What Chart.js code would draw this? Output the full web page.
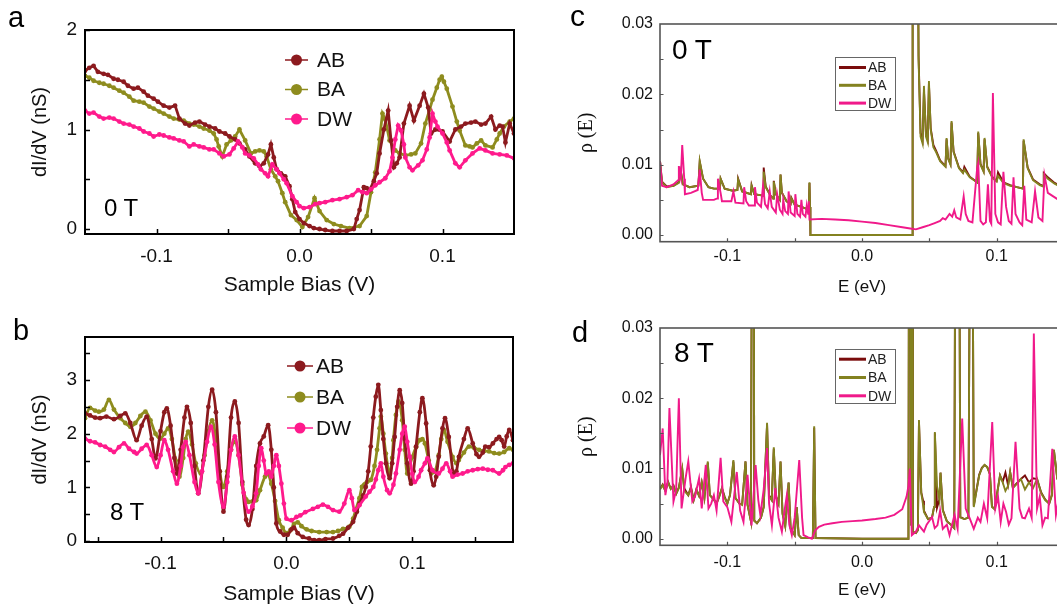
<!DOCTYPE html>
<html><head><meta charset="utf-8">
<title>dI/dV spectra and calculated DOS</title>
<script src="https://cdn.jsdelivr.net/npm/chart.js@4.4.1/dist/chart.umd.min.js"></script>
<style>
html,body{margin:0;padding:0;background:#fff;}
body{width:1057px;height:612px;overflow:hidden;position:relative;font-family:Arial,"Liberation Sans",sans-serif;}
canvas{position:absolute;}
.t{position:absolute;line-height:1;color:#000;white-space:nowrap;}
</style></head><body>
<canvas id="ca" width="530" height="306" style="left:0;top:0"></canvas>
<canvas id="cb" width="530" height="306" style="left:0;top:306px"></canvas>
<canvas id="cc" width="540" height="306" style="left:530px;top:0"></canvas>
<canvas id="cd" width="540" height="306" style="left:530px;top:306px"></canvas>
<div class="t" style="left:8px;top:3px;font-size:29px">a</div>
<div class="t" style="left:13px;top:316px;font-size:29px">b</div>
<div class="t" style="left:570px;top:1px;font-size:30px">c</div>
<div class="t" style="left:572px;top:318px;font-size:29px">d</div>
<div class="t" style="left:104px;top:196px;font-size:24px">0 T</div>
<div class="t" style="left:110px;top:500px;font-size:24px">8 T</div>
<div class="t" style="left:672px;top:36px;font-size:28px">0 T</div>
<div class="t" style="left:674px;top:339px;font-size:28px">8 T</div>
<script>
// ---------- data: panel a (0 T, measured dI/dV, nS vs V) ----------
const aAB = [[-0.150,1.59],[-0.147,1.62],[-0.144,1.64],[-0.141,1.58],[-0.137,1.56],[-0.134,1.55],[-0.130,1.51],[-0.127,1.50],[-0.123,1.48],[-0.120,1.44],[-0.116,1.41],[-0.113,1.42],[-0.109,1.38],[-0.106,1.34],[-0.102,1.31],[-0.099,1.28],[-0.095,1.24],[-0.091,1.22],[-0.087,1.24],[-0.084,1.11],[-0.080,1.06],[-0.077,1.04],[-0.073,1.07],[-0.070,1.08],[-0.066,1.05],[-0.063,1.03],[-0.059,1.01],[-0.056,0.98],[-0.052,0.96],[-0.049,0.93],[-0.045,0.90],[-0.042,0.86],[-0.038,0.80],[-0.035,0.73],[-0.031,0.66],[-0.028,0.63],[-0.025,0.66],[-0.022,0.75],[-0.020,0.85],[-0.018,0.72],[-0.016,0.60],[-0.013,0.56],[-0.010,0.53],[-0.007,0.43],[-0.005,0.30],[-0.003,0.17],[0.000,0.10],[0.003,0.06],[0.007,0.03],[0.010,0.01],[0.014,0.00],[0.018,-0.01],[0.023,-0.02],[0.028,-0.02],[0.033,-0.02],[0.038,0.00],[0.040,0.10],[0.042,0.19],[0.045,0.42],[0.047,0.41],[0.049,0.39],[0.052,0.48],[0.054,0.56],[0.056,0.76],[0.059,1.00],[0.062,1.19],[0.064,0.89],[0.066,0.62],[0.068,0.66],[0.070,0.72],[0.073,1.06],[0.077,1.24],[0.080,1.09],[0.084,1.24],[0.087,1.36],[0.090,1.22],[0.092,0.96],[0.095,1.00],[0.100,0.98],[0.105,0.88],[0.109,1.00],[0.113,1.03],[0.116,1.06],[0.120,1.07],[0.123,1.08],[0.127,1.05],[0.130,1.06],[0.134,1.13],[0.137,1.00],[0.140,1.04],[0.142,1.03],[0.144,0.87],[0.147,1.06],[0.150,0.96]];
const aBA = [[-0.150,1.54],[-0.147,1.52],[-0.144,1.49],[-0.140,1.47],[-0.137,1.46],[-0.133,1.44],[-0.130,1.42],[-0.126,1.39],[-0.123,1.37],[-0.119,1.33],[-0.116,1.29],[-0.112,1.28],[-0.109,1.27],[-0.105,1.23],[-0.102,1.21],[-0.098,1.18],[-0.095,1.16],[-0.091,1.13],[-0.088,1.11],[-0.084,1.10],[-0.081,1.09],[-0.077,1.06],[-0.074,1.05],[-0.070,1.03],[-0.067,1.01],[-0.063,0.99],[-0.060,0.96],[-0.058,0.90],[-0.0565,0.83],[-0.054,0.73],[-0.051,0.85],[-0.048,0.89],[-0.045,0.93],[-0.042,1.00],[-0.038,0.89],[-0.034,0.76],[-0.031,0.78],[-0.028,0.79],[-0.025,0.78],[-0.023,0.73],[-0.020,0.60],[-0.017,0.53],[-0.015,0.48],[-0.012,0.36],[-0.010,0.27],[-0.006,0.14],[-0.002,0.09],[0.002,0.02],[0.006,0.12],[0.0105,0.31],[0.014,0.18],[0.019,0.09],[0.024,0.05],[0.029,0.03],[0.035,0.01],[0.042,0.03],[0.047,0.13],[0.050,0.37],[0.053,0.57],[0.056,0.90],[0.058,1.16],[0.060,1.10],[0.063,0.89],[0.067,0.79],[0.070,0.76],[0.074,0.74],[0.078,0.75],[0.081,0.76],[0.085,0.86],[0.088,1.06],[0.091,1.20],[0.093,1.30],[0.096,1.42],[0.098,1.50],[0.0995,1.53],[0.101,1.48],[0.103,1.41],[0.107,1.23],[0.110,1.08],[0.112,0.99],[0.116,0.84],[0.119,0.83],[0.121,0.82],[0.124,0.86],[0.127,0.89],[0.130,0.84],[0.135,0.82],[0.138,0.90],[0.140,0.96],[0.143,1.03],[0.147,1.08],[0.150,1.11]];
const aDW = [[-0.150,1.19],[-0.147,1.16],[-0.144,1.17],[-0.140,1.13],[-0.137,1.11],[-0.133,1.12],[-0.130,1.11],[-0.126,1.08],[-0.123,1.06],[-0.119,1.05],[-0.116,1.03],[-0.112,1.01],[-0.109,0.98],[-0.105,0.96],[-0.102,0.93],[-0.098,0.95],[-0.095,0.94],[-0.091,0.92],[-0.088,0.91],[-0.084,0.89],[-0.081,0.88],[-0.077,0.83],[-0.074,0.85],[-0.070,0.83],[-0.067,0.82],[-0.063,0.80],[-0.060,0.80],[-0.056,0.76],[-0.053,0.73],[-0.049,0.75],[-0.046,0.81],[-0.043,0.88],[-0.040,0.82],[-0.038,0.76],[-0.035,0.74],[-0.032,0.71],[-0.029,0.65],[-0.027,0.60],[-0.024,0.56],[-0.022,0.53],[-0.019,0.65],[-0.016,0.60],[-0.014,0.56],[-0.011,0.50],[-0.009,0.46],[-0.005,0.33],[-0.002,0.27],[0.000,0.23],[0.003,0.21],[0.007,0.22],[0.011,0.25],[0.014,0.26],[0.018,0.27],[0.023,0.29],[0.028,0.30],[0.033,0.32],[0.037,0.34],[0.041,0.39],[0.044,0.37],[0.047,0.36],[0.050,0.40],[0.053,0.44],[0.056,0.47],[0.060,0.51],[0.063,0.58],[0.065,0.72],[0.067,0.90],[0.069,1.04],[0.071,0.99],[0.073,0.85],[0.074,0.72],[0.077,0.62],[0.079,0.59],[0.083,0.64],[0.086,0.69],[0.089,0.80],[0.091,0.92],[0.093,1.16],[0.095,1.08],[0.0965,1.03],[0.100,0.96],[0.103,0.87],[0.105,0.79],[0.109,0.66],[0.112,0.62],[0.116,0.69],[0.121,0.76],[0.126,0.81],[0.130,0.79],[0.135,0.76],[0.140,0.75],[0.145,0.74],[0.150,0.71]];

// ---------- data: panel b (8 T, measured dI/dV) ----------
const bAB = [[-0.160,2.38],[-0.156,2.34],[-0.152,2.30],[-0.148,2.29],[-0.143,2.32],[-0.137,2.27],[-0.132,2.33],[-0.128,2.38],[-0.124,2.20],[-0.119,1.88],[-0.115,2.15],[-0.111,2.32],[-0.107,1.90],[-0.104,1.54],[-0.100,2.05],[-0.097,2.40],[-0.095,2.47],[-0.092,2.15],[-0.089,1.55],[-0.087,1.26],[-0.084,1.70],[-0.081,2.30],[-0.079,2.50],[-0.076,2.20],[-0.073,1.40],[-0.070,0.89],[-0.066,1.50],[-0.062,2.50],[-0.059,2.82],[-0.056,2.40],[-0.053,1.30],[-0.050,0.55],[-0.047,1.20],[-0.044,2.30],[-0.041,2.60],[-0.038,2.20],[-0.035,1.10],[-0.032,0.40],[-0.030,0.30],[-0.027,0.60],[-0.024,1.40],[-0.021,1.82],[-0.018,1.95],[-0.0145,2.16],[-0.012,1.70],[-0.010,1.00],[-0.008,0.33],[-0.005,0.18],[-0.002,0.12],[0.001,0.12],[0.004,0.22],[0.006,0.25],[0.009,0.15],[0.013,0.08],[0.018,0.05],[0.022,0.02],[0.026,0.02],[0.031,0.04],[0.037,0.05],[0.042,0.10],[0.045,0.14],[0.049,0.25],[0.053,0.36],[0.056,0.55],[0.058,0.70],[0.061,0.85],[0.063,1.01],[0.065,1.30],[0.067,1.76],[0.069,2.30],[0.071,2.69],[0.073,2.91],[0.075,2.44],[0.077,1.90],[0.079,1.45],[0.082,1.17],[0.084,1.45],[0.086,1.94],[0.088,2.50],[0.090,2.81],[0.092,2.57],[0.094,1.90],[0.096,1.45],[0.099,1.07],[0.101,1.30],[0.103,1.76],[0.106,2.40],[0.108,2.66],[0.111,2.19],[0.114,1.32],[0.117,1.04],[0.119,1.20],[0.121,1.57],[0.124,2.10],[0.126,2.29],[0.129,1.94],[0.133,1.25],[0.135,1.30],[0.137,1.57],[0.141,1.90],[0.144,2.10],[0.148,1.82],[0.151,1.62],[0.153,1.57],[0.156,1.65],[0.158,1.76],[0.161,1.75],[0.164,1.82],[0.167,1.90],[0.169,1.94],[0.171,1.88],[0.173,1.76],[0.175,1.95],[0.177,2.07],[0.180,1.88]];
const bBA = [[-0.160,2.29],[-0.156,2.48],[-0.152,2.43],[-0.149,2.41],[-0.145,2.45],[-0.141,2.63],[-0.137,2.45],[-0.132,2.29],[-0.128,2.20],[-0.124,2.13],[-0.120,2.20],[-0.116,2.33],[-0.112,2.41],[-0.108,2.25],[-0.104,2.00],[-0.100,1.91],[-0.097,2.00],[-0.094,2.10],[-0.091,1.90],[-0.088,1.50],[-0.085,1.20],[-0.082,1.55],[-0.080,1.90],[-0.078,2.04],[-0.075,1.80],[-0.072,1.45],[-0.068,1.26],[-0.065,1.60],[-0.062,2.05],[-0.059,2.25],[-0.056,1.90],[-0.053,1.30],[-0.050,1.01],[-0.047,1.30],[-0.044,1.70],[-0.041,1.85],[-0.038,1.60],[-0.035,1.05],[-0.032,0.78],[-0.030,0.73],[-0.027,0.74],[-0.024,0.76],[-0.021,0.95],[-0.017,1.20],[-0.015,1.25],[-0.012,1.07],[-0.009,0.75],[-0.006,0.39],[-0.003,0.25],[0.000,0.15],[0.003,0.20],[0.006,0.32],[0.009,0.35],[0.012,0.28],[0.016,0.22],[0.020,0.19],[0.026,0.17],[0.032,0.17],[0.037,0.17],[0.041,0.19],[0.045,0.23],[0.050,0.27],[0.053,0.42],[0.055,0.58],[0.058,0.80],[0.060,1.01],[0.064,1.10],[0.067,1.14],[0.070,1.40],[0.072,1.70],[0.074,2.10],[0.075,2.32],[0.077,2.00],[0.079,1.63],[0.082,1.26],[0.084,1.55],[0.085,1.88],[0.087,2.35],[0.089,2.60],[0.092,2.25],[0.094,1.70],[0.096,1.26],[0.098,1.40],[0.100,1.57],[0.103,1.75],[0.106,1.88],[0.108,1.90],[0.110,1.82],[0.113,1.50],[0.115,1.26],[0.118,1.30],[0.121,1.60],[0.123,1.90],[0.125,2.07],[0.128,1.85],[0.132,1.57],[0.135,1.45],[0.137,1.51],[0.141,1.65],[0.145,1.76],[0.149,1.74],[0.153,1.70],[0.157,1.68],[0.161,1.67],[0.165,1.64],[0.169,1.63],[0.173,1.66],[0.177,1.73],[0.180,1.70]];
const bDW = [[-0.160,1.91],[-0.156,1.86],[-0.152,1.84],[-0.148,1.79],[-0.144,1.76],[-0.140,1.70],[-0.137,1.66],[-0.133,1.75],[-0.129,1.82],[-0.125,1.72],[-0.121,1.66],[-0.119,1.63],[-0.115,1.72],[-0.111,1.79],[-0.107,1.60],[-0.103,1.38],[-0.100,1.60],[-0.097,1.88],[-0.094,1.70],[-0.090,1.30],[-0.087,1.07],[-0.084,1.40],[-0.082,1.75],[-0.080,1.85],[-0.077,1.60],[-0.073,1.10],[-0.070,0.89],[-0.067,1.30],[-0.063,1.85],[-0.060,2.13],[-0.057,1.80],[-0.054,1.10],[-0.050,0.64],[-0.047,1.10],[-0.044,1.70],[-0.041,1.95],[-0.038,1.60],[-0.034,0.90],[-0.030,0.55],[-0.027,0.65],[-0.024,0.89],[-0.022,1.40],[-0.020,1.73],[-0.018,1.50],[-0.016,1.26],[-0.014,1.30],[-0.012,1.20],[-0.010,1.40],[-0.008,1.60],[-0.006,1.40],[-0.004,1.07],[-0.002,0.70],[0.000,0.42],[0.004,0.39],[0.008,0.45],[0.011,0.48],[0.015,0.54],[0.021,0.60],[0.025,0.64],[0.029,0.68],[0.033,0.64],[0.037,0.58],[0.042,0.55],[0.046,0.70],[0.050,0.95],[0.052,0.80],[0.054,0.58],[0.058,0.67],[0.063,0.83],[0.066,0.92],[0.069,1.01],[0.071,1.15],[0.073,1.32],[0.075,1.45],[0.077,1.20],[0.080,0.95],[0.082,0.89],[0.085,1.05],[0.087,1.26],[0.090,1.70],[0.092,2.00],[0.094,2.13],[0.096,1.85],[0.098,1.57],[0.100,1.25],[0.102,1.10],[0.105,1.20],[0.107,1.32],[0.110,1.45],[0.112,1.54],[0.116,1.32],[0.121,1.26],[0.124,1.35],[0.127,1.45],[0.130,1.30],[0.132,1.20],[0.136,1.24],[0.140,1.26],[0.144,1.30],[0.148,1.32],[0.152,1.34],[0.156,1.35],[0.160,1.33],[0.164,1.32],[0.169,1.26],[0.172,1.32],[0.174,1.38],[0.177,1.42],[0.180,1.45]];

// ---------- data: panel c (0 T, calculated rho(E)) ----------
const cAB = [[-0.150,0.0105],[-0.1485,0.0076],[-0.145,0.0069],[-0.140,0.0070],[-0.136,0.0075],[-0.1345,0.0091],[-0.133,0.0072],[-0.128,0.0068],[-0.1215,0.0070],[-0.1205,0.0104],[-0.118,0.0080],[-0.114,0.0068],[-0.110,0.0066],[-0.1055,0.0066],[-0.105,0.0080],[-0.102,0.0066],[-0.096,0.0063],[-0.0925,0.0064],[-0.092,0.0080],[-0.089,0.0062],[-0.0825,0.0058],[-0.082,0.0071],[-0.080,0.0058],[-0.0735,0.0056],[-0.073,0.0096],[-0.0715,0.0069],[-0.068,0.0056],[-0.066,0.0052],[-0.0655,0.0077],[-0.064,0.0058],[-0.061,0.0050],[-0.0605,0.0086],[-0.0595,0.0060],[-0.056,0.0048],[-0.053,0.0044],[-0.0525,0.0053],[-0.050,0.0043],[-0.045,0.0040],[-0.042,0.0038],[-0.0395,0.0036],[-0.039,0.0074],[-0.0386,0.0040],[-0.0383,0.0000],[0.0000,0.0000],[0.0372,0.0000],[0.0376,0.0600],[0.0410,0.0600],[0.0420,0.0255],[0.0435,0.0145],[0.0450,0.0135],[0.0460,0.0205],[0.0475,0.0145],[0.0488,0.0136],[0.0497,0.0215],[0.0510,0.0152],[0.0530,0.0128],[0.0550,0.0120],[0.0580,0.0106],[0.0620,0.0098],[0.0628,0.0136],[0.0640,0.0109],[0.0657,0.0101],[0.0665,0.0160],[0.0680,0.0119],[0.0720,0.0096],[0.0750,0.0089],[0.0760,0.0097],[0.0800,0.0083],[0.0855,0.0075],[0.0863,0.0145],[0.0880,0.0101],[0.0903,0.0091],[0.0910,0.0136],[0.0930,0.0097],[0.0970,0.0082],[0.1000,0.0077],[0.1010,0.0089],[0.1050,0.0075],[0.1100,0.0071],[0.1150,0.0068],[0.1195,0.0066],[0.1200,0.0134],[0.1230,0.0096],[0.1270,0.0079],[0.1320,0.0072],[0.1345,0.0070],[0.1350,0.0088],[0.1380,0.0082],[0.1430,0.0074],[0.1500,0.0067]];
const cBA = [[-0.150,0.0105],[-0.1485,0.0075],[-0.145,0.0068],[-0.140,0.0070],[-0.136,0.0074],[-0.1345,0.0090],[-0.133,0.0072],[-0.128,0.0068],[-0.1215,0.0070],[-0.1205,0.0105],[-0.118,0.0080],[-0.114,0.0068],[-0.110,0.0066],[-0.1055,0.0066],[-0.105,0.0080],[-0.102,0.0066],[-0.096,0.0063],[-0.0925,0.0064],[-0.092,0.0079],[-0.089,0.0062],[-0.0825,0.0058],[-0.082,0.0070],[-0.080,0.0058],[-0.0735,0.0056],[-0.073,0.0090],[-0.0715,0.0068],[-0.068,0.0056],[-0.066,0.0052],[-0.0655,0.0076],[-0.064,0.0058],[-0.061,0.0050],[-0.0605,0.0086],[-0.0595,0.0060],[-0.056,0.0048],[-0.053,0.0044],[-0.0525,0.0052],[-0.050,0.0043],[-0.045,0.0040],[-0.042,0.0038],[-0.0395,0.0036],[-0.039,0.0075],[-0.0386,0.0040],[-0.0383,0.0000],[0.0000,0.0000],[0.0372,0.0000],[0.0376,0.0600],[0.0410,0.0600],[0.0420,0.0250],[0.0435,0.0140],[0.0450,0.0130],[0.0460,0.0212],[0.0475,0.0140],[0.0488,0.0132],[0.0497,0.0219],[0.0510,0.0150],[0.0530,0.0125],[0.0550,0.0118],[0.0580,0.0105],[0.0620,0.0097],[0.0628,0.0138],[0.0640,0.0108],[0.0657,0.0100],[0.0665,0.0162],[0.0680,0.0118],[0.0720,0.0095],[0.0750,0.0088],[0.0760,0.0093],[0.0800,0.0082],[0.0855,0.0075],[0.0863,0.0147],[0.0880,0.0100],[0.0903,0.0090],[0.0910,0.0138],[0.0930,0.0096],[0.0970,0.0081],[0.1000,0.0076],[0.1010,0.0084],[0.1050,0.0074],[0.1100,0.0070],[0.1150,0.0068],[0.1195,0.0066],[0.1200,0.0136],[0.1230,0.0095],[0.1270,0.0078],[0.1320,0.0071],[0.1345,0.0069],[0.1350,0.0086],[0.1380,0.0080],[0.1430,0.0073],[0.1500,0.0066]];
const cDW = [[-0.150,0.0105],[-0.1485,0.0070],[-0.145,0.0068],[-0.140,0.0072],[-0.1365,0.0078],[-0.136,0.0098],[-0.1345,0.0082],[-0.1335,0.0128],[-0.132,0.0080],[-0.1315,0.0058],[-0.127,0.0060],[-0.122,0.0064],[-0.1205,0.0093],[-0.119,0.0060],[-0.118,0.0050],[-0.110,0.0050],[-0.1075,0.0052],[-0.107,0.0080],[-0.105,0.0060],[-0.104,0.0048],[-0.097,0.0048],[-0.0955,0.0062],[-0.094,0.0046],[-0.088,0.0045],[-0.0875,0.0068],[-0.086,0.0048],[-0.084,0.0042],[-0.080,0.0042],[-0.0795,0.0068],[-0.078,0.0046],[-0.075,0.0040],[-0.0735,0.0070],[-0.072,0.0044],[-0.070,0.0038],[-0.0685,0.0062],[-0.067,0.0040],[-0.064,0.0032],[-0.063,0.0058],[-0.061,0.0036],[-0.059,0.0030],[-0.0585,0.0050],[-0.057,0.0034],[-0.055,0.0030],[-0.0545,0.0062],[-0.053,0.0032],[-0.050,0.0027],[-0.0495,0.0058],[-0.048,0.0030],[-0.046,0.0026],[-0.045,0.0050],[-0.044,0.0030],[-0.042,0.0026],[-0.041,0.0042],[-0.040,0.0030],[-0.0395,0.0048],[-0.039,0.0022],[-0.030,0.0023],[-0.020,0.0022],[-0.010,0.0021],[0.000,0.0019],[0.010,0.0017],[0.020,0.0014],[0.030,0.0011],[0.037,0.0009],[0.040,0.0008],[0.045,0.0011],[0.050,0.0014],[0.054,0.0017],[0.058,0.0020],[0.060,0.0024],[0.062,0.0022],[0.065,0.0030],[0.067,0.0026],[0.0685,0.0035],[0.070,0.0025],[0.073,0.0022],[0.0755,0.0055],[0.077,0.0030],[0.079,0.0020],[0.082,0.0018],[0.0855,0.0095],[0.0863,0.0102],[0.088,0.0020],[0.090,0.0015],[0.092,0.0018],[0.0935,0.0072],[0.095,0.0020],[0.096,0.0016],[0.0972,0.0202],[0.099,0.0030],[0.101,0.0018],[0.103,0.0015],[0.105,0.0090],[0.107,0.0040],[0.109,0.0020],[0.111,0.0016],[0.1125,0.0082],[0.114,0.0030],[0.117,0.0018],[0.119,0.0014],[0.1205,0.0070],[0.122,0.0022],[0.126,0.0018],[0.1285,0.0062],[0.131,0.0025],[0.134,0.0020],[0.1355,0.0085],[0.138,0.0060],[0.142,0.0055],[0.146,0.0050],[0.150,0.0045]];

// ---------- data: panel d (8 T, calculated rho(E)) ----------
const dAB = [[-0.150,0.0071],[-0.148,0.0077],[-0.146,0.0068],[-0.144,0.0081],[-0.142,0.0071],[-0.140,0.0076],[-0.138,0.0064],[-0.136,0.0073],[-0.1335,0.0099],[-0.132,0.0072],[-0.129,0.0062],[-0.127,0.0074],[-0.125,0.0055],[-0.123,0.0070],[-0.121,0.0061],[-0.119,0.0080],[-0.117,0.0058],[-0.1145,0.0108],[-0.113,0.0062],[-0.110,0.0056],[-0.108,0.0050],[-0.106,0.0060],[-0.104,0.0072],[-0.102,0.0060],[-0.100,0.0050],[-0.098,0.0062],[-0.0955,0.0110],[-0.094,0.0058],[-0.091,0.0050],[-0.089,0.0049],[-0.0865,0.0110],[-0.085,0.0048],[-0.0825,0.0025],[-0.0815,0.0600],[-0.0805,0.0600],[-0.0800,0.0026],[-0.078,0.0022],[-0.075,0.0030],[-0.073,0.0045],[-0.0705,0.0163],[-0.069,0.0062],[-0.067,0.0055],[-0.0655,0.0128],[-0.064,0.0061],[-0.062,0.0050],[-0.0605,0.0110],[-0.059,0.0036],[-0.057,0.0018],[-0.0545,0.0080],[-0.053,0.0015],[-0.050,0.0005],[-0.0485,0.0045],[-0.047,0.0005],[-0.045,0.0001],[-0.0365,0.0001],[-0.0355,0.0158],[-0.0345,0.0001],[0.0000,0.0000],[0.0345,0.0000],[0.0350,0.0600],[0.0360,0.0600],[0.0365,0.0020],[0.0367,0.0600],[0.0373,0.0600],[0.0378,0.0010],[0.0400,0.0008],[0.0415,0.0012],[0.0423,0.0167],[0.0440,0.0066],[0.0454,0.0054],[0.0460,0.0040],[0.0490,0.0028],[0.0520,0.0030],[0.0535,0.0045],[0.0541,0.0150],[0.0557,0.0044],[0.0575,0.0056],[0.0583,0.0094],[0.0600,0.0041],[0.0630,0.0025],[0.0660,0.0020],[0.0685,0.0015],[0.0695,0.0600],[0.0720,0.0600],[0.0730,0.0031],[0.0760,0.0028],[0.0790,0.0030],[0.0806,0.0600],[0.0818,0.0600],[0.0830,0.0047],[0.0850,0.0069],[0.0870,0.0091],[0.0890,0.0101],[0.0910,0.0105],[0.0930,0.0102],[0.0950,0.0092],[0.0965,0.0046],[0.0985,0.0042],[0.1000,0.0061],[0.1025,0.0090],[0.1045,0.0081],[0.1065,0.0094],[0.1085,0.0076],[0.1100,0.0095],[0.1120,0.0073],[0.1150,0.0079],[0.1180,0.0085],[0.1210,0.0090],[0.1240,0.0080],[0.1270,0.0086],[0.1300,0.0085],[0.1330,0.0066],[0.1360,0.0056],[0.1390,0.0050],[0.1410,0.0062],[0.1425,0.0126],[0.1450,0.0086],[0.1475,0.0080],[0.1500,0.0092]];
const dBA = [[-0.150,0.0070],[-0.148,0.0076],[-0.146,0.0068],[-0.144,0.0080],[-0.142,0.0071],[-0.140,0.0075],[-0.138,0.0064],[-0.136,0.0072],[-0.1335,0.0100],[-0.132,0.0068],[-0.129,0.0062],[-0.127,0.0072],[-0.125,0.0055],[-0.123,0.0070],[-0.121,0.0061],[-0.119,0.0080],[-0.117,0.0058],[-0.1145,0.0110],[-0.113,0.0062],[-0.110,0.0055],[-0.108,0.0050],[-0.106,0.0060],[-0.104,0.0072],[-0.102,0.0058],[-0.100,0.0050],[-0.098,0.0062],[-0.0955,0.0112],[-0.094,0.0058],[-0.091,0.0050],[-0.089,0.0048],[-0.0865,0.0110],[-0.085,0.0048],[-0.0825,0.0025],[-0.0815,0.0600],[-0.0805,0.0600],[-0.0800,0.0025],[-0.078,0.0022],[-0.075,0.0030],[-0.073,0.0045],[-0.0705,0.0165],[-0.069,0.0060],[-0.067,0.0055],[-0.0655,0.0130],[-0.064,0.0060],[-0.062,0.0050],[-0.0605,0.0110],[-0.059,0.0035],[-0.057,0.0018],[-0.0545,0.0080],[-0.053,0.0015],[-0.050,0.0005],[-0.0485,0.0045],[-0.047,0.0005],[-0.045,0.0001],[-0.0365,0.0001],[-0.0355,0.0160],[-0.0345,0.0001],[0.0000,0.0000],[0.0345,0.0000],[0.0350,0.0600],[0.0360,0.0600],[0.0365,0.0020],[0.0367,0.0600],[0.0373,0.0600],[0.0378,0.0010],[0.0400,0.0008],[0.0415,0.0012],[0.0423,0.0169],[0.0440,0.0065],[0.0454,0.0048],[0.0460,0.0038],[0.0490,0.0028],[0.0520,0.0030],[0.0535,0.0045],[0.0541,0.0152],[0.0557,0.0075],[0.0575,0.0055],[0.0583,0.0094],[0.0600,0.0040],[0.0630,0.0025],[0.0660,0.0020],[0.0685,0.0015],[0.0695,0.0600],[0.0720,0.0600],[0.0730,0.0030],[0.0760,0.0028],[0.0790,0.0030],[0.0806,0.0600],[0.0818,0.0600],[0.0830,0.0045],[0.0850,0.0068],[0.0870,0.0090],[0.0890,0.0100],[0.0910,0.0105],[0.0930,0.0102],[0.0950,0.0092],[0.0965,0.0045],[0.0985,0.0042],[0.1000,0.0060],[0.1025,0.0090],[0.1045,0.0080],[0.1065,0.0068],[0.1085,0.0075],[0.1100,0.0095],[0.1120,0.0072],[0.1150,0.0078],[0.1180,0.0085],[0.1210,0.0070],[0.1240,0.0080],[0.1270,0.0072],[0.1300,0.0085],[0.1330,0.0065],[0.1360,0.0055],[0.1390,0.0050],[0.1410,0.0062],[0.1425,0.0127],[0.1450,0.0085],[0.1475,0.0080],[0.1500,0.0092]];
const dDW = [[-0.1500,0.0119],[-0.1480,0.0157],[-0.1460,0.0062],[-0.1445,0.0080],[-0.1430,0.0186],[-0.1400,0.0053],[-0.1380,0.0070],[-0.1360,0.0200],[-0.1340,0.0043],[-0.1310,0.0086],[-0.1290,0.0110],[-0.1260,0.0053],[-0.1240,0.0060],[-0.1210,0.0086],[-0.1190,0.0043],[-0.1160,0.0105],[-0.1140,0.0043],[-0.1120,0.0050],[-0.1100,0.0062],[-0.1080,0.0040],[-0.1050,0.0115],[-0.1030,0.0053],[-0.1000,0.0045],[-0.0970,0.0024],[-0.0950,0.0060],[-0.0930,0.0095],[-0.0905,0.0040],[-0.0880,0.0024],[-0.0850,0.0091],[-0.0820,0.0019],[-0.0790,0.0105],[-0.0770,0.0055],[-0.0755,0.0034],[-0.0730,0.0070],[-0.0705,0.0129],[-0.0690,0.0050],[-0.0669,0.0019],[-0.0644,0.0072],[-0.0620,0.0030],[-0.0595,0.0010],[-0.0575,0.0040],[-0.0558,0.0062],[-0.0540,0.0020],[-0.0521,0.0005],[-0.0500,0.0030],[-0.0466,0.0112],[-0.0445,0.0030],[-0.0434,0.0005],[-0.0400,0.0002],[-0.0372,0.0000],[-0.0347,0.0012],[-0.0320,0.0017],[-0.0280,0.0020],[-0.0220,0.0022],[-0.0150,0.0024],[-0.0070,0.0025],[0.0000,0.0026],[0.0100,0.0028],[0.0175,0.0030],[0.0240,0.0034],[0.0299,0.0042],[0.0331,0.0060],[0.0345,0.0075],[0.0355,0.0100],[0.0370,0.0005],[0.0400,0.0010],[0.0423,0.0019],[0.0460,0.0010],[0.0480,0.0020],[0.0520,0.0031],[0.0540,0.0015],[0.0560,0.0019],[0.0580,0.0040],[0.0600,0.0014],[0.0630,0.0020],[0.0650,0.0005],[0.0687,0.0034],[0.0710,0.0014],[0.0744,0.0171],[0.0770,0.0043],[0.0800,0.0029],[0.0830,0.0014],[0.0860,0.0030],[0.0880,0.0024],[0.0905,0.0050],[0.0930,0.0029],[0.0967,0.0166],[0.0990,0.0043],[0.1010,0.0060],[0.1030,0.0024],[0.1050,0.0050],[0.1070,0.0038],[0.1090,0.0020],[0.1110,0.0029],[0.1140,0.0138],[0.1170,0.0043],[0.1190,0.0030],[0.1210,0.0029],[0.1240,0.0043],[0.1260,0.0030],[0.1276,0.0292],[0.1300,0.0043],[0.1320,0.0060],[0.1340,0.0019],[0.1360,0.0030],[0.1380,0.0029],[0.1413,0.0128],[0.1440,0.0034],[0.1470,0.0067],[0.1500,0.0045]];

// ---------- tick labels and tick marks ----------
const biasTicks = [-0.1, 0, 0.1];
const aBiasMarks = [-0.1, -0.05, 0, 0.05, 0.1];
const bBiasMarks = [-0.15, -0.1, -0.05, 0, 0.05, 0.1, 0.15];
const aCondTicks = [0, 1, 2];
const aCondMarks = [0, 0.5, 1, 1.5, 2];
const bCondTicks = [0, 1, 2, 3];
const bCondMarks = [0, 0.5, 1, 1.5, 2, 2.5, 3, 3.5];
const energyTicks = [-0.1, 0, 0.1];
const energyMarks = [-0.1, -0.05, 0, 0.05, 0.1];
const rhoTicks = [0, 0.01, 0.02, 0.03];
const rhoMarks = [0, 0.005, 0.01, 0.015, 0.02, 0.025];
const seriesNames = ['AB', 'BA', 'DW'];

// ---------- drawing ----------
Chart.defaults.font.family = 'Arial, "Liberation Sans", sans-serif';
Chart.defaults.color = '#000';

const framePlugin = {
  id: 'frame',
  afterDatasetsDraw(chart, args, o) {
    const {ctx, chartArea: a, scales: {x, y}} = chart;
    ctx.save();
    ctx.strokeStyle = o.color; ctx.lineWidth = o.width;
    ctx.strokeRect(a.left, a.top, a.right - a.left, a.bottom - a.top);
    ctx.beginPath();
    o.xMarks.forEach(v => { const p = Math.round(x.getPixelForValue(v)) + 0.5; ctx.moveTo(p, a.bottom); ctx.lineTo(p, a.bottom - o.len); });
    o.yMarks.forEach(v => { const p = Math.round(y.getPixelForValue(v)) + 0.5; ctx.moveTo(a.left, p); ctx.lineTo(a.left + o.len, p); });
    ctx.lineWidth = o.tickWidth;
    ctx.stroke();
    ctx.restore();
  }
};
const keyPlugin = {
  id: 'key',
  afterDatasetsDraw(chart, args, o) {
    const ctx = chart.ctx;
    ctx.save();
    if (o.box) {
      ctx.fillStyle = '#fff';
      ctx.fillRect(o.box[0], o.box[1], o.box[2], o.box[3]);
      ctx.strokeStyle = '#666'; ctx.lineWidth = 1;
      ctx.strokeRect(o.box[0] + 0.5, o.box[1] + 0.5, o.box[2], o.box[3]);
    }
    seriesNames.forEach((name, k) => {
      const ds = chart.data.datasets.find(d => d.label === name);
      const yy = o.y0 + k * o.dy;
      ctx.strokeStyle = ds.borderColor; ctx.lineWidth = o.lw;
      ctx.beginPath(); ctx.moveTo(o.x0, yy); ctx.lineTo(o.x1, yy); ctx.stroke();
      if (o.dot) {
        ctx.fillStyle = ds.borderColor;
        ctx.beginPath(); ctx.arc((o.x0 + o.x1) / 2, yy, o.dot, 0, Math.PI * 2); ctx.fill();
      }
      ctx.fillStyle = o.textColor; ctx.font = o.font; ctx.textBaseline = 'middle'; ctx.textAlign = 'left';
      ctx.fillText(name, o.tx, yy + 1);
    });
    ctx.restore();
  }
};

function pts(arr) { return arr.map(p => ({x: p[0], y: p[1]})); }
function measured(label, arr, color, order, smooth) {
  const d = {label, data: pts(arr), borderColor: color, backgroundColor: color, borderWidth: 2.8,
    pointRadius: 2.4, pointBorderWidth: 0, pointBackgroundColor: color, tension: 0, order};
  if (smooth) { d.cubicInterpolationMode = 'monotone'; }
  return d;
}
function calc(label, arr, color, order) {
  return {label, data: pts(arr), borderColor: color, backgroundColor: color, borderWidth: 1.9,
    pointRadius: 0, tension: 0, order};
}
function scaleX(min, max, ticks, h, pad, font, title, titleFont, titleBottom, dec) {
  return {type: 'linear', min, max,
    afterBuildTicks: s => { s.ticks = ticks.map(v => ({value: v})); },
    afterFit: s => { s.height = h; },
    grid: {display: false, drawTicks: false}, border: {display: false},
    ticks: {padding: pad, font: {size: font}, color: '#111', autoSkip: false, maxRotation: 0, minRotation: 0,
      callback: v => Number(v).toFixed(dec)},
    title: {display: true, text: title, font: titleFont, color: '#111', padding: {top: 0, bottom: titleBottom}}};
}
function scaleY(min, max, ticks, w, pad, font, title, titleFont, titleTop, dec) {
  return {type: 'linear', min, max,
    afterBuildTicks: s => { s.ticks = ticks.map(v => ({value: v})); },
    afterFit: s => { s.width = w; },
    grid: {display: false, drawTicks: false}, border: {display: false},
    ticks: {padding: pad, font: {size: font}, color: '#111', autoSkip: false,
      callback: v => Number(v).toFixed(dec)},
    title: {display: true, text: title, font: titleFont, color: '#111', padding: {top: titleTop, bottom: 0}}};
}
const baseOpts = {responsive: false, animation: false, events: []};
const colM = {AB: '#8c1a1e', BA: '#8e8c1e', DW: '#ff1a8c'};
const colC = {AB: '#7a0c0c', BA: '#838220', DW: '#f0198a'};

new Chart(document.getElementById('ca'), {
  type: 'line',
  data: {datasets: [measured('AB', aAB, colM.AB, 2), measured('BA', aBA, colM.BA, 3), measured('DW', aDW, colM.DW, 1)]},
  options: Object.assign({}, baseOpts, {
    layout: {padding: {left: 0, top: 30, right: 16, bottom: 0}},
    plugins: {legend: {display: false}, tooltip: {enabled: false},
      frame: {color: '#000', width: 2, tickWidth: 1.5, len: 5, xMarks: aBiasMarks, yMarks: aCondMarks},
      key: {x0: 285, x1: 308, dot: 5.5, lw: 1.5, tx: 317, y0: 60, dy: 29.5, font: '21px Arial, "Liberation Sans", sans-serif', textColor: '#111'}},
    scales: {
      x: scaleX(-0.15, 0.15, biasTicks, 72, 11.6, 19, 'Sample Bias (V)', {size: 21}, 8.4, 1),
      y: scaleY(-0.05, 2, aCondTicks, 85, 8, 19, 'dI/dV (nS)', {size: 20}, 28, 0)
    }
  }),
  plugins: [framePlugin, keyPlugin]
});

new Chart(document.getElementById('cb'), {
  type: 'line',
  data: {datasets: [measured('AB', bAB, colM.AB, 2, true), measured('BA', bBA, colM.BA, 3, true), measured('DW', bDW, colM.DW, 1, true)]},
  options: Object.assign({}, baseOpts, {
    layout: {padding: {left: 0, top: 31, right: 17, bottom: 0}},
    plugins: {legend: {display: false}, tooltip: {enabled: false},
      frame: {color: '#000', width: 2, tickWidth: 1.5, len: 5, xMarks: bBiasMarks, yMarks: bCondMarks},
      key: {x0: 287, x1: 313, dot: 5.5, lw: 1.5, tx: 316, y0: 60, dy: 31, font: '21px Arial, "Liberation Sans", sans-serif', textColor: '#111'}},
    scales: {
      x: scaleX(-0.16, 0.18, biasTicks, 70, 9.9, 19, 'Sample Bias (V)', {size: 21}, 5.4, 1),
      y: scaleY(-0.015, 3.8, bCondTicks, 85, 8, 19, 'dI/dV (nS)', {size: 20}, 28, 0)
    }
  }),
  plugins: [framePlugin, keyPlugin]
});

new Chart(document.getElementById('cc'), {
  type: 'line',
  data: {datasets: [calc('AB', cAB, colC.AB, 3), calc('BA', cBA, colC.BA, 2), calc('DW', cDW, colC.DW, 1)]},
  options: Object.assign({}, baseOpts, {
    layout: {padding: {left: 0, top: 24, right: 6, bottom: 0}},
    plugins: {legend: {display: false}, tooltip: {enabled: false},
      frame: {color: '#555', width: 1.6, tickWidth: 1.2, len: 3.5, xMarks: energyMarks, yMarks: rhoMarks},
      key: {box: [305, 57, 60, 53], x0: 309, x1: 336, lw: 3, tx: 338, y0: 67.5, dy: 17.8, font: '14px Arial, "Liberation Sans", sans-serif', textColor: '#222'}},
    scales: {
      x: scaleX(-0.15, 0.15, energyTicks, 64.3, 5.7, 16, 'E (eV)', {size: 17}, 8.8, 1),
      y: scaleY(-0.00095, 0.03, rhoTicks, 130, 7, 16, '\u03C1 (E)', {size: 20, family: '"Times New Roman", "Liberation Serif", serif'}, 45, 2)
    }
  }),
  plugins: [framePlugin, keyPlugin]
});

new Chart(document.getElementById('cd'), {
  type: 'line',
  data: {datasets: [calc('AB', dAB, colC.AB, 3), calc('BA', dBA, colC.BA, 2), calc('DW', dDW, colC.DW, 1)]},
  options: Object.assign({}, baseOpts, {
    layout: {padding: {left: 0, top: 22, right: 6, bottom: 0}},
    plugins: {legend: {display: false}, tooltip: {enabled: false},
      frame: {color: '#555', width: 1.6, tickWidth: 1.2, len: 3.5, xMarks: energyMarks, yMarks: rhoMarks},
      key: {box: [305, 43, 60, 54], x0: 309, x1: 336, lw: 3, tx: 338, y0: 53.2, dy: 18.3, font: '14px Arial, "Liberation Sans", sans-serif', textColor: '#222'}},
    scales: {
      x: scaleX(-0.15, 0.15, energyTicks, 66.7, 8.1, 16, 'E (eV)', {size: 17}, 11, 1),
      y: scaleY(-0.00094, 0.03, rhoTicks, 130, 7, 16, '\u03C1 (E)', {size: 20, family: '"Times New Roman", "Liberation Serif", serif'}, 45, 2)
    }
  }),
  plugins: [framePlugin, keyPlugin]
});
</script>
</body></html>
